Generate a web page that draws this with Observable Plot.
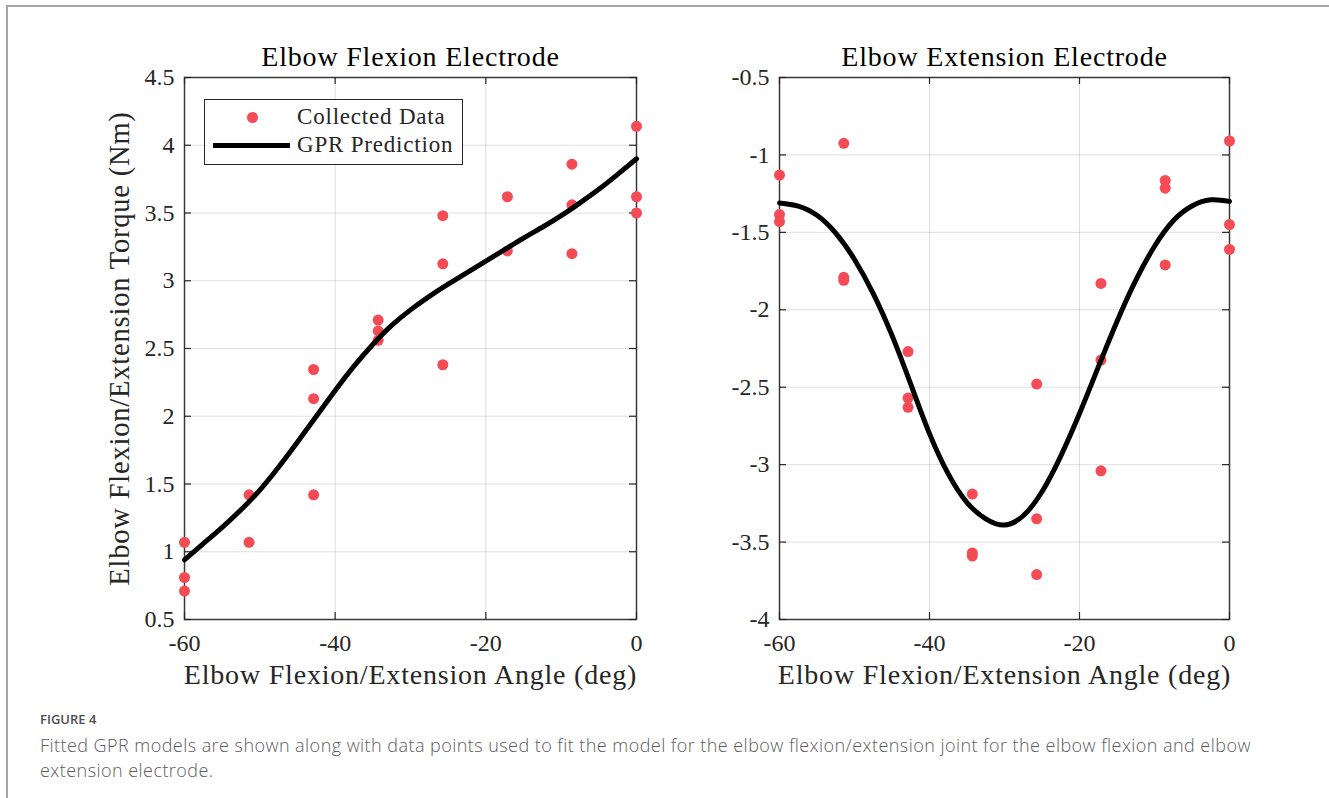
<!DOCTYPE html>
<html>
<head>
<meta charset="utf-8">
<script src="https://cdn.jsdelivr.net/npm/d3@7"></script>
<script src="https://cdn.jsdelivr.net/npm/@observablehq/plot@0.6"></script>
<style>
  html, body { margin: 0; padding: 0; background: #fff; }
  #page { position: relative; width: 1329px; height: 798px; overflow: hidden; background: #fff; }
  #frameLines { position: absolute; left: 6px; top: 5px; right: -20px; bottom: -20px;
    border-top: 2px solid #a5a5a5; border-left: 2px solid #a5a5a5; }
  .panel { position: absolute; top: 0; }
  .legend-box { position: absolute; left: 204px; top: 99px; width: 257px; height: 64px;
    border: 1px solid #262626; background: #fff; }
  .legend-dot { position: absolute; width: 11px; height: 11px; border-radius: 50%; }
  .legend-line { position: absolute; height: 5px; background: #000; }
  .legend-text { position: absolute; font-family: "Liberation Serif", serif; font-size: 23px;
    line-height: 23px; letter-spacing: 0.8px; color: #262626; white-space: nowrap; }
  .fig-label { position: absolute; left: 40px; top: 713px; font-family: "Open Sans", sans-serif;
    font-size: 13px; line-height: 13px; font-weight: 600; color: #4d4d4d; }
  .fig-caption { position: absolute; left: 40px; top: 733px; font-family: "Open Sans", sans-serif;
    font-size: 18px; line-height: 25px; letter-spacing: 0.45px; color: #5c5c5c; white-space: nowrap; font-weight: 300; }
</style>
</head>
<body>
<div id="page">
  <div id="frameLines"></div>
  <div id="left" class="panel" style="left:0px"></div>
  <div id="right" class="panel" style="left:660px"></div>
  <div id="legend"></div>
  <div id="caption"></div>
</div>
<script>
// ---------- data ----------
const xTicks = [-60, -40, -20, 0];
const flexYTicks = [0.5, 1, 1.5, 2, 2.5, 3, 3.5, 4, 4.5];
const extYTicks = [-4, -3.5, -3, -2.5, -2, -1.5, -1, -0.5];

const panelTitles = ["Elbow Flexion Electrode", "Elbow Extension Electrode"];
const xLabel = "Elbow Flexion/Extension Angle (deg)";
const yLabel = "Elbow Flexion/Extension Torque (Nm)";
const seriesNames = ["Collected Data", "GPR Prediction"];

// collected data, elbow flexion electrode
const flexAngle = [-60, -60, -60, -51.43, -51.43, -42.86, -42.86, -42.86, -34.29, -34.29, -34.29,
  -25.71, -25.71, -25.71, -17.14, -17.14, -8.57, -8.57, -8.57, 0, 0, 0];
const flexTorque = [1.07, 0.81, 0.71, 1.42, 1.07, 2.345, 2.13, 1.42, 2.71, 2.63, 2.56,
  3.48, 3.125, 2.38, 3.62, 3.22, 3.86, 3.56, 3.20, 4.14, 3.62, 3.50];

// collected data, elbow extension electrode
const extAngle = [-60, -60, -60, -51.43, -51.43, -51.43, -42.86, -42.86, -42.86, -34.29, -34.29, -34.29,
  -25.71, -25.71, -25.71, -17.14, -17.14, -17.14, -8.57, -8.57, -8.57, 0, 0, 0];
const extTorque = [-1.13, -1.385, -1.43, -0.925, -1.79, -1.81, -2.27, -2.57, -2.63, -3.19, -3.57, -3.59,
  -2.48, -3.35, -3.71, -1.83, -2.325, -3.04, -1.165, -1.215, -1.71, -0.91, -1.45, -1.61];

// GPR prediction curves
const fitAngle = [-60, -57.5, -55, -52.5, -50, -47.5, -45, -42.5, -40, -37.5, -35, -32.5, -30,
  -27.5, -25, -22.5, -20, -17.5, -15, -12.5, -10, -7.5, -5, -2.5, 0];
const flexFit = [0.94, 1.06, 1.18, 1.31, 1.455, 1.625, 1.81, 2.00, 2.19, 2.37, 2.53, 2.67, 2.785,
  2.885, 2.975, 3.06, 3.145, 3.23, 3.315, 3.395, 3.48, 3.575, 3.675, 3.785, 3.90];
const extFit = [-1.31, -1.33, -1.39, -1.505, -1.675, -1.895, -2.165, -2.48, -2.80, -3.06, -3.245, -3.35, -3.39,
  -3.33, -3.175, -2.945, -2.67, -2.37, -2.075, -1.81, -1.59, -1.425, -1.33, -1.29, -1.30];

const RED = "#F44B55";
const AXIS = "#262626";

// ---------- build ----------
const zip = (xs, ys) => xs.map((x, i) => ({angle: x, torque: ys[i]}));

function panel({points, fit, yDomain, yTicks, title, width, marginLeft, marginRight, showYLabel}) {
  const H = 700, mt = 77, mb = 81;
  const plotH = H - mt - mb, plotW = width - marginLeft - marginRight;
  const tl = 7;
  const marks = [
    Plot.gridX(xTicks, {stroke: AXIS, strokeOpacity: 0.15, strokeWidth: 1}),
    Plot.gridY(yTicks, {stroke: AXIS, strokeOpacity: 0.15, strokeWidth: 1}),
    Plot.tickX(xTicks, {x: d => d, insetTop: plotH - tl, stroke: AXIS, strokeWidth: 1.2}),
    Plot.tickX(xTicks, {x: d => d, insetBottom: plotH - tl, stroke: AXIS, strokeWidth: 1.2}),
    Plot.tickY(yTicks, {y: d => d, insetRight: plotW - tl, stroke: AXIS, strokeWidth: 1.2}),
    Plot.tickY(yTicks, {y: d => d, insetLeft: plotW - tl, stroke: AXIS, strokeWidth: 1.2}),
    Plot.frame({stroke: AXIS, strokeWidth: 1.5, strokeOpacity: 0.9}),
    Plot.axisX(xTicks, {tickSize: 0, tickPadding: 14, tickFormat: d => String(d), fontSize: 24, label: null, fill: AXIS}),
    Plot.axisY(yTicks, {tickSize: 0, tickPadding: 10, tickFormat: d => String(d), fontSize: 24, label: null, fill: AXIS}),
    Plot.dot(points, {x: "angle", y: "torque", r: 5.5, fill: RED, stroke: "none"}),
    Plot.line(fit, {x: "angle", y: "torque", stroke: "#000", strokeWidth: 5, curve: "natural", strokeLinejoin: "round"}),
    Plot.text([title], {frameAnchor: "top", dy: -20, fontSize: 28, textAnchor: "middle", lineAnchor: "middle", fill: "#000"}),
    Plot.text([xLabel], {frameAnchor: "bottom", dy: 56, fontSize: 28, textAnchor: "middle", lineAnchor: "middle", fill: AXIS})
  ];
  if (showYLabel) {
    marks.push(Plot.text([yLabel], {frameAnchor: "left", dx: -65, rotate: -90, fontSize: 28.5,
      textAnchor: "middle", lineAnchor: "middle", fill: AXIS}));
  }
  const svg = Plot.plot({
    width, height: H, marginTop: mt, marginBottom: mb, marginLeft, marginRight,
    style: {fontFamily: "'Liberation Serif', 'Times New Roman', serif", fontSize: "24px", color: AXIS,
      background: "transparent", overflow: "visible"},
    x: {domain: [-60, 0]},
    y: {domain: yDomain},
    marks
  });
  d3.select(svg).selectAll("g[font-size='28'], g[font-size='28.5']").style("letter-spacing", "0.8px");
  return svg;
}

document.getElementById("left").appendChild(panel({
  points: zip(flexAngle, flexTorque), fit: zip(fitAngle, flexFit),
  yDomain: [0.5, 4.5], yTicks: flexYTicks, title: panelTitles[0],
  width: 660, marginLeft: 184, marginRight: 24, showYLabel: true
}));
document.getElementById("right").appendChild(panel({
  points: zip(extAngle, extTorque), fit: zip(fitAngle, extFit),
  yDomain: [-4, -0.5], yTicks: extYTicks, title: panelTitles[1],
  width: 669, marginLeft: 119, marginRight: 100, showYLabel: false
}));

// legend
const legend = document.getElementById("legend");
legend.innerHTML = `
  <div class="legend-box"></div>
  <div class="legend-dot" style="left:246.5px;top:111.5px;background:${RED}"></div>
  <div class="legend-line" style="left:213px;top:142.5px;width:77px"></div>
  <div class="legend-text" style="left:297px;top:105px">${seriesNames[0]}</div>
  <div class="legend-text" style="left:297px;top:133px">${seriesNames[1]}</div>`;

// caption
document.getElementById("caption").innerHTML = `
  <div class="fig-label">FIGURE 4</div>
  <div class="fig-caption">Fitted GPR models are shown along with data points used to fit the model for the elbow flexion/extension joint for the elbow flexion and elbow<br>extension electrode.</div>`;
</script>
</body>
</html>
